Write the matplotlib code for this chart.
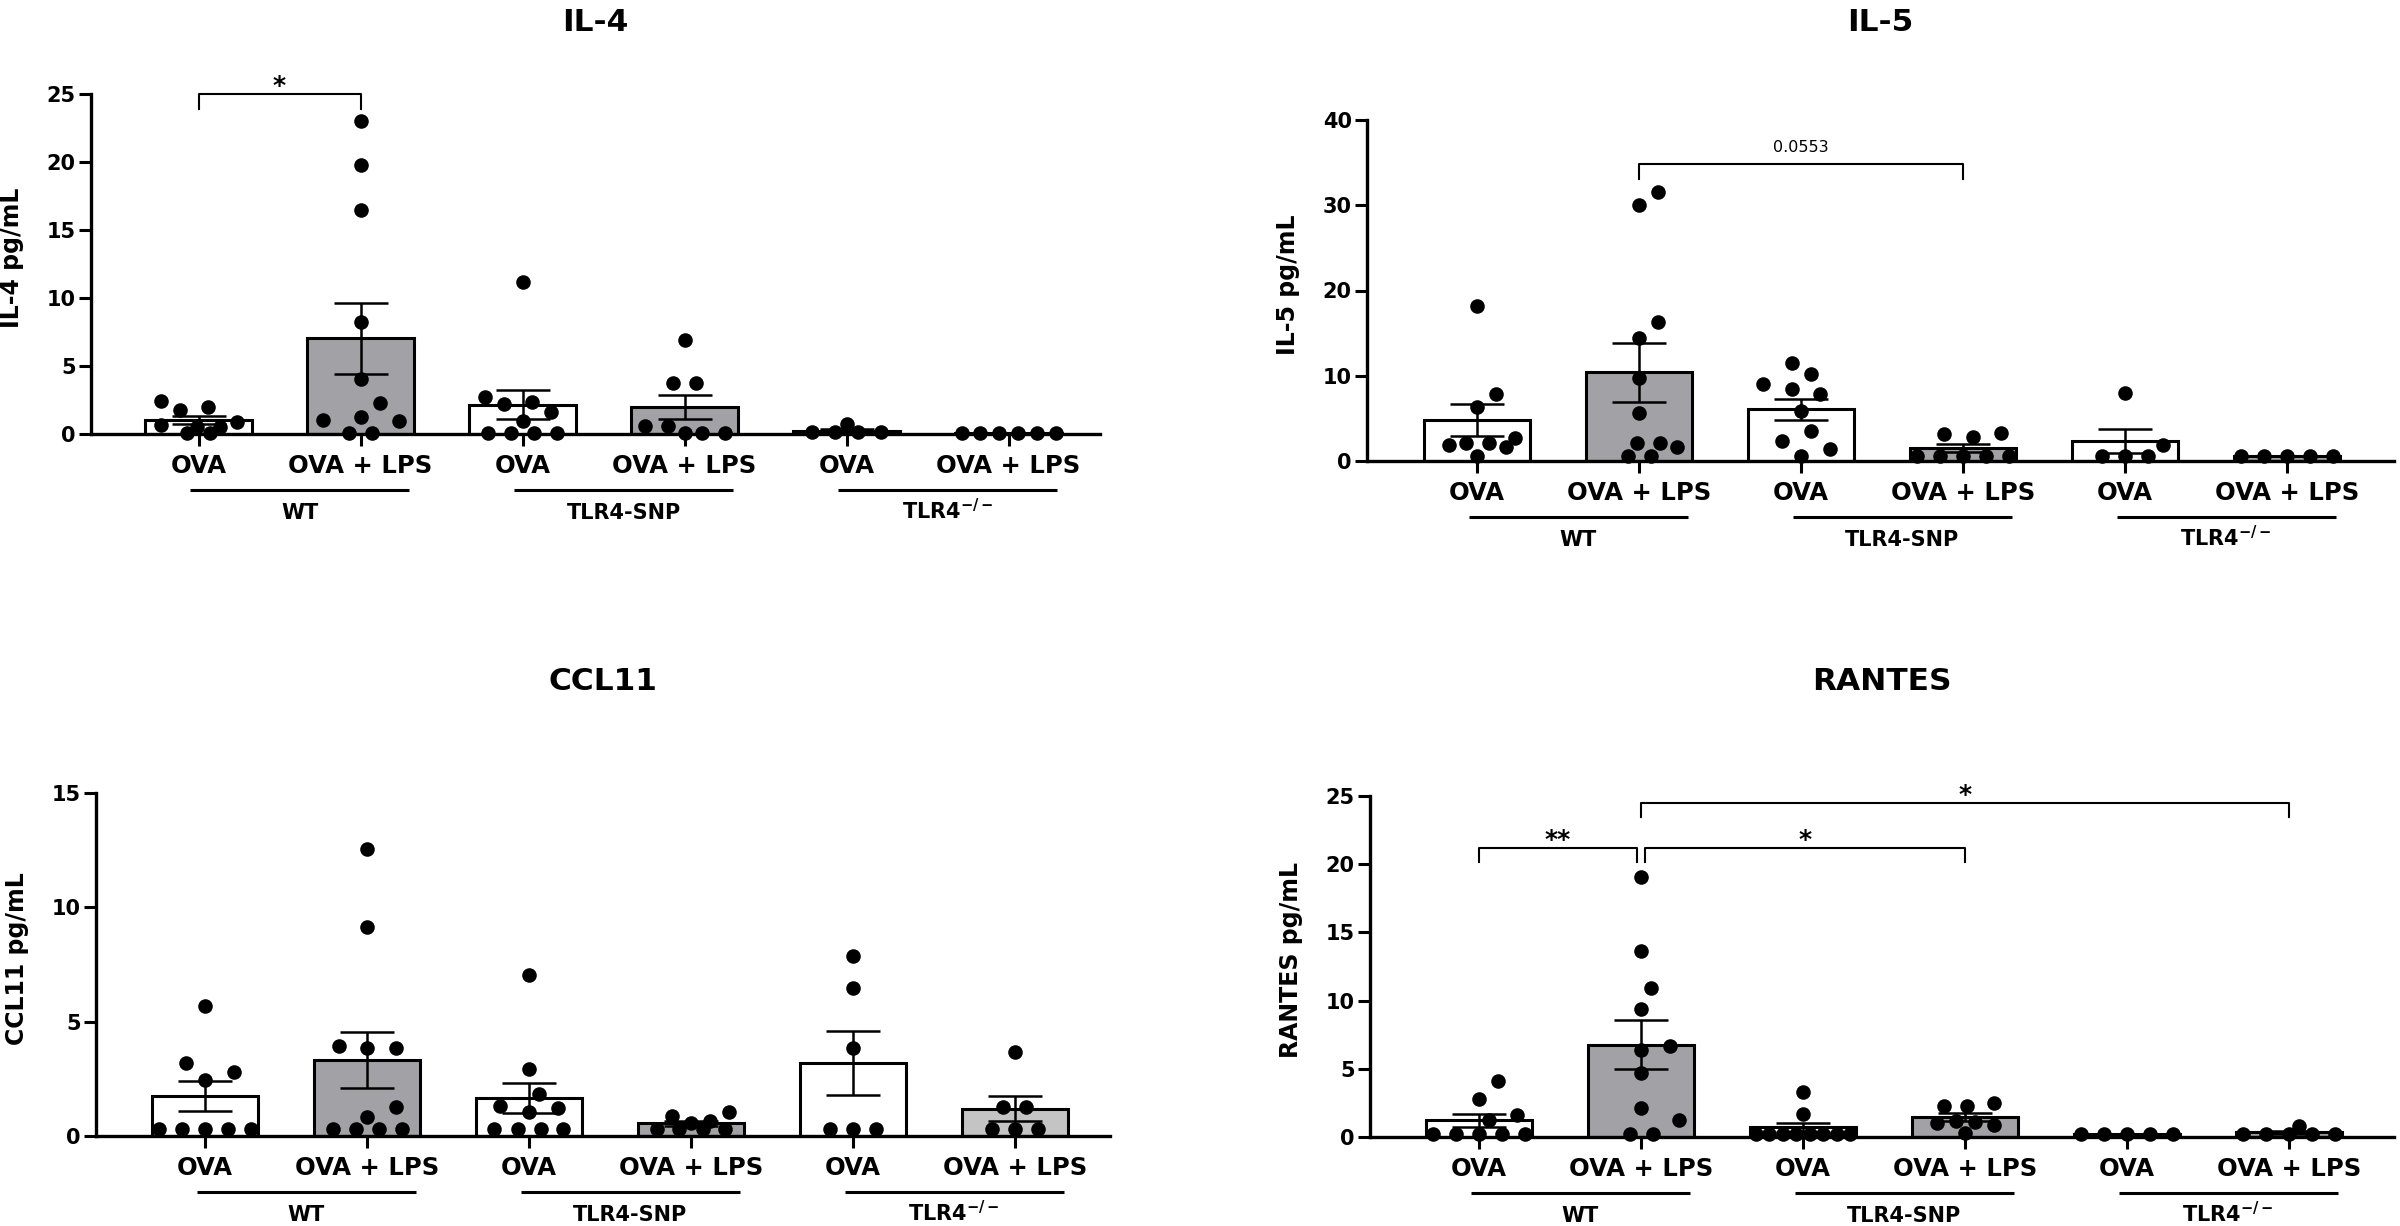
import numpy as np
import matplotlib.pyplot as plt
from matplotlib.transforms import blended_transform_factory

plt.rcParams['font.family'] = ['DejaVu Sans']
plt.rcParams['font.weight'] = 'bold'

W, H = 2400, 1226

treatments = ['OVA', 'OVA + LPS', 'OVA', 'OVA + LPS', 'OVA', 'OVA + LPS']
strains = ['WT', 'TLR4-SNP', r'TLR4$^{\mathbf{-/-}}$']

# one list of animals per bar: WT OVA, WT OVA+LPS, SNP OVA, SNP OVA+LPS, KO OVA, KO OVA+LPS
il4 = [
    [2.0, 2.43, 1.76, 0.9, 0.54, 0.66, 0.1, 0.1, 0.54],
    [23.0, 19.8, 16.5, 8.21, 4.02, 2.3, 1.27, 1.03, 0.96, 0.1, 0.1],
    [11.2, 2.74, 2.38, 2.18, 1.59, 0.95, 0.1, 0.1, 0.1, 0.1],
    [6.9, 3.72, 3.72, 0.59, 0.59, 0.1, 0.1, 0.05],
    [0.71, 0.12, 0.12, 0.12, 0.12],
    [0.1, 0.1, 0.1, 0.1, 0.1, 0.1],
]
il5 = [
    [18.2, 7.86, 6.3, 2.66, 2.15, 2.15, 1.88, 1.6, 0.59],
    [31.5, 30.05, 16.3, 14.39, 9.7, 5.6, 2.15, 2.15, 1.6, 0.59, 0.59],
    [11.53, 10.17, 9.03, 8.4, 7.82, 5.9, 3.56, 2.35, 1.41, 0.63],
    [3.32, 3.17, 2.85, 0.6, 0.6, 0.6, 0.6, 0.6],
    [8.0, 1.88, 0.59, 0.59, 0.59],
    [0.59, 0.59, 0.59, 0.59, 0.59],
]
ccl11 = [
    [5.68, 3.18, 2.81, 2.45, 0.32, 0.32, 0.32, 0.32, 0.32],
    [12.55, 9.14, 3.93, 3.86, 3.83, 1.28, 0.82, 0.32, 0.32, 0.32, 0.32],
    [7.02, 2.92, 1.82, 1.31, 1.21, 1.06, 0.32, 0.32, 0.32, 0.32],
    [1.06, 0.87, 0.67, 0.55, 0.32, 0.32, 0.32, 0.32],
    [7.85, 6.49, 3.86, 0.32, 0.32, 0.32],
    [3.69, 1.28, 1.28, 0.32, 0.32, 0.32],
]
rantes = [
    [4.13, 2.79, 1.61, 1.25, 0.25, 0.25, 0.25, 0.25, 0.25],
    [19.05, 13.65, 10.9, 9.36, 6.67, 6.38, 4.72, 2.1, 1.25, 0.25, 0.25],
    [3.32, 1.69, 0.25, 0.25, 0.25, 0.25, 0.25, 0.25, 0.25, 0.25],
    [2.51, 2.27, 2.27, 1.2, 1.12, 1.0, 0.88, 0.32],
    [0.24, 0.24, 0.24, 0.24, 0.24],
    [0.8, 0.24, 0.24, 0.24, 0.24, 0.24],
]

panels = [il4, il5, ccl11, rantes]
titles = ['IL-4', 'IL-5', 'CCL11', 'RANTES']
ylabels = ['IL-4 pg/mL', 'IL-5 pg/mL', 'CCL11 pg/mL', 'RANTES pg/mL']
ymaxs = [25, 40, 15, 25]
ysteps = [5, 10, 5, 5]

# significance brackets: (from bar, to bar, height, text)
sigs = [
    [(0, 1, 25.0, '*')],
    [(1, 3, 34.8, '0.0553')],
    [],
    [(0, 0.975, 21.2, '**'), (1.025, 3, 21.2, '*'), (1, 5, 24.5, '*')],
]

# layout in pixels: left, top, right, bottom, centre of first bar
boxes = [(91, 94, 1100, 434, 198.5), (1367, 120, 2394, 461, 1477),
         (96, 793, 1110, 1136, 205), (1370, 796, 2394, 1137, 1479)]
title_y = [31, 31, 690, 690]
spacing = 162
GRAY = '#a2a2a6'
LIGHT = '#c4c4c4'


def swarm(vals, px_x, px_y, step=19, dmin=22, lim=47):
    # simple beeswarm in pixel space; equal values form one centred row
    vals = np.asarray(vals, float)
    offs = np.zeros(len(vals))
    placed = []
    cands = [0.0]
    k = 1
    while k * step / 2 <= lim:
        cands += [k * step / 2, -k * step / 2]
        k += 1
    for v in np.unique(vals):
        idx = np.where(vals == v)[0]
        n = len(idx)
        s = 0 if n == 1 else min(23, 94 / (n - 1))
        base = (np.arange(n) - (n - 1) / 2) * s
        y = v * px_y
        best, best_d = base, -1
        for c in cands:
            xs = base + c
            if np.abs(xs).max() > lim + 1:
                continue
            d = min([np.hypot(x - px, y - py) for x in xs for px, py in placed],
                    default=1e9)
            if d >= dmin:
                best = xs
                break
            if d > best_d:
                best, best_d = xs, d
        for i, x in zip(idx, best):
            placed.append((x, y))
            offs[i] = x / px_x
    return offs


fig = plt.figure(figsize=(W / 100, H / 100), dpi=100)

for k, data in enumerate(panels):
    l, t, r, b, c0 = boxes[k]
    ax = fig.add_axes([l / W, 1 - b / H, (r - l) / W, (b - t) / H])
    ymax = ymaxs[k]
    ax.set_xlim(-(c0 - l) / spacing, (r - c0) / spacing)
    ax.set_ylim(0, ymax)
    px_y = (b - t) / ymax

    pos = np.arange(len(data))
    means = [np.mean(v) for v in data]
    sems = [np.std(v, ddof=1) / np.sqrt(len(v)) for v in data]
    fills = ['white', GRAY] * 3
    if titles[k] == 'CCL11':
        fills[5] = LIGHT

    ax.bar(pos, means, width=0.655, color=fills, edgecolor='black',
           linewidth=2.2, zorder=2)
    ax.errorbar(pos, means, yerr=sems, fmt='none', ecolor='black',
                elinewidth=1.8, capsize=19.5, capthick=1.8, zorder=3)
    for p, v in zip(pos, data):
        xo = swarm(v, spacing, px_y)
        ax.scatter(p + xo, v, s=110, color='black', linewidths=0,
                   zorder=4, clip_on=False)

    for sp in ['top', 'right']:
        ax.spines[sp].set_visible(False)
    for sp in ['left', 'bottom']:
        ax.spines[sp].set_linewidth(2.4)
    ax.set_yticks(np.arange(0, ymax + 1, ysteps[k]))
    ax.tick_params(axis='y', length=9, width=2.2, labelsize=15, pad=2)
    ax.set_xticks(pos)
    ax.tick_params(axis='x', length=8.5, width=2.2, labelbottom=False)

    hpx = b - t
    tr = blended_transform_factory(ax.transData, ax.transAxes)
    for p, name in zip(pos, treatments):
        ax.text(p, -39 / hpx, name, transform=tr, ha='center',
                va='baseline', fontsize=17.5)
    for g, name in enumerate(strains):
        x0 = 2 * g
        ax.plot([x0 - 0.05, x0 + 1.3], [-56 / hpx] * 2, transform=tr,
                color='black', lw=2.2, clip_on=False, solid_capstyle='butt')
        ax.text(x0 + 0.625, -85 / hpx, name, transform=tr, ha='center',
                va='baseline', fontsize=15)

    ax.text(-79 / (r - l), 0.5 + 6 / hpx, ylabels[k], transform=ax.transAxes,
            rotation=90, ha='center', va='center', fontsize=17)

    drop = 0.043 * ymax
    for x1, x2, h, txt in sigs[k]:
        ax.plot([x1, x1, x2, x2], [h - drop, h, h, h - drop], color='black',
                lw=1.5, clip_on=False, zorder=5)
        if txt.startswith('*'):
            ax.annotate(txt, ((x1 + x2) / 2, h), xytext=(0, 0.5),
                        textcoords='offset points', ha='center',
                        va='baseline', fontsize=18)
        else:
            ax.annotate(txt, ((x1 + x2) / 2, h), xytext=(0, 8.8),
                        textcoords='offset points', ha='center',
                        va='baseline', fontsize=11.5, fontweight='normal')

    fig.text((l + r) / 2 / W, 1 - title_y[k] / H, titles[k], ha='center',
             va='baseline', fontsize=22.5)

fig.savefig('out.png', dpi=100)
